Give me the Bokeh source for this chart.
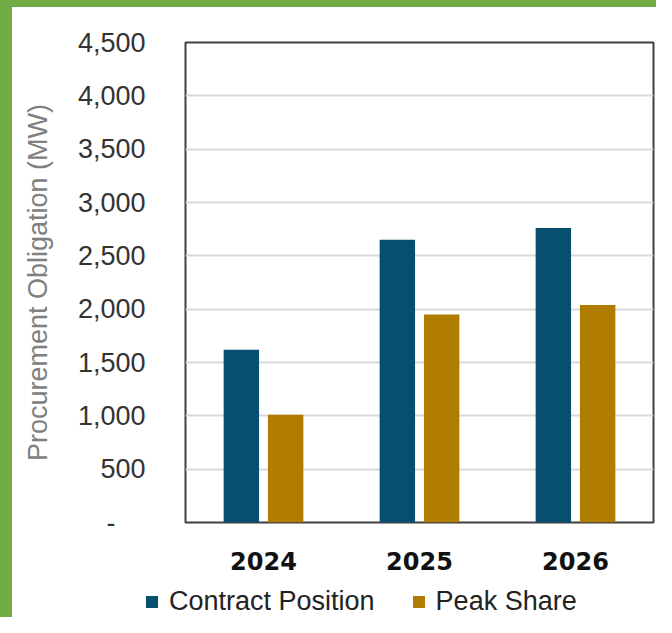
from bokeh.plotting import figure
from bokeh.layouts import column, row
from bokeh.models import (ColumnDataSource, FactorRange, Range1d, FixedTicker,
                          CustomJSTickFormatter, Legend, LegendItem, Div)
from bokeh.transform import dodge
from bokeh.embed import file_html
from bokeh.resources import INLINE

# ---- data ----
years = ["2024", "2025", "2026"]
contract_position = [1620, 2650, 2760]
peak_share = [1010, 1950, 2040]
y_ticks = [0, 500, 1000, 1500, 2000, 2500, 3000, 3500, 4000, 4500]
series_names = ["Contract Position", "Peak Share"]
series_colors = ["#064F6E", "#AF7C00"]
y_title = "Procurement Obligation (MW)"

GREEN = "#70AD47"

src = ColumnDataSource(dict(year=years, contract=contract_position, peak=peak_share))

p = figure(x_range=FactorRange(*years), y_range=Range1d(0, 4500),
           width=644, height=575, output_backend="svg", toolbar_location=None,
           min_border_left=173, min_border_right=3, min_border_top=35,
           min_border_bottom=60)
p.background_fill_color = "white"
p.border_fill_color = "white"
p.outline_line_color = "#404040"
p.outline_line_width = 2

p.vbar(x=dodge("year", -0.142, range=p.x_range), top="contract", width=0.227,
       source=src, fill_color=series_colors[0], line_color=None)
p.vbar(x=dodge("year", 0.142, range=p.x_range), top="peak", width=0.227,
       source=src, fill_color=series_colors[1], line_color=None)

# grid
p.xgrid.grid_line_color = None
p.ygrid.grid_line_color = "#d9d9d9"
p.ygrid.grid_line_width = 2

# y axis
p.yaxis.ticker = FixedTicker(ticks=y_ticks)
p.yaxis.formatter = CustomJSTickFormatter(
    code="return tick == 0 ? '-\u00a0\u00a0\u00a0\u00a0' : tick.toLocaleString('en-US');")
p.yaxis.axis_line_color = None
p.yaxis.major_tick_line_color = None
p.yaxis.minor_tick_line_color = None
p.yaxis.major_tick_out = 0
p.yaxis.major_tick_in = 0
p.yaxis.major_label_standoff = 40
p.yaxis.major_label_text_font = "Liberation Sans"
p.yaxis.major_label_text_font_size = "27px"
p.yaxis.major_label_text_color = "#333333"
p.yaxis.axis_label = y_title
p.yaxis.axis_label_text_font = "Liberation Sans"
p.yaxis.axis_label_text_font_style = "normal"
p.yaxis.axis_label_text_font_size = "27px"
p.yaxis.axis_label_text_color = "#808080"
p.yaxis.axis_label_standoff = 22

# x axis
p.xaxis.axis_line_color = None
p.xaxis.major_tick_line_color = None
p.xaxis.major_tick_out = 0
p.xaxis.major_tick_in = 0
p.xaxis.major_label_standoff = 29
p.xaxis.major_label_text_font = "DejaVu Sans"
p.xaxis.major_label_text_font_style = "bold"
p.xaxis.major_label_text_font_size = "24px"
p.xaxis.major_label_text_color = "#111111"

# legend strip (separate small figure so the legend is not clipped by the plot frame)
lg = figure(width=644, height=35, output_backend="svg", toolbar_location=None,
            x_axis_type=None, y_axis_type=None, min_border=0,
            x_range=Range1d(0, 1), y_range=Range1d(0, 1))
lg.outline_line_color = None
lg.background_fill_color = "white"
lg.border_fill_color = "white"
# one point each, placed outside the visible range: used only for legend swatches
lr1 = lg.vbar(x=[5], top=[1], width=0.1, fill_color=series_colors[0], line_color=None)
lr2 = lg.vbar(x=[5], top=[1], width=0.1, fill_color=series_colors[1], line_color=None)
legend = Legend(items=[LegendItem(label=series_names[0], renderers=[lr1]),
                       LegendItem(label=series_names[1], renderers=[lr2])],
                orientation="horizontal", location=(132, 0),
                padding=2, margin=0, spacing=36, label_standoff=10,
                glyph_width=15, glyph_height=15,
                label_text_font="Liberation Sans", label_text_font_size="27px",
                label_text_color="#222222", border_line_color=None,
                background_fill_alpha=0)
lg.add_layout(legend, "center")

top_strip = Div(text="", width=656, height=7, margin=0,
                styles={"background-color": GREEN})
left_strip = Div(text="", width=12, height=575, margin=0,
                 styles={"background-color": GREEN})
left_strip2 = Div(text="", width=12, height=35, margin=0,
                  styles={"background-color": GREEN})
layout = column(top_strip,
                row(left_strip, p, spacing=0),
                row(left_strip2, lg, spacing=0),
                spacing=0)

open("out.html", "w").write(file_html(layout, INLINE))
